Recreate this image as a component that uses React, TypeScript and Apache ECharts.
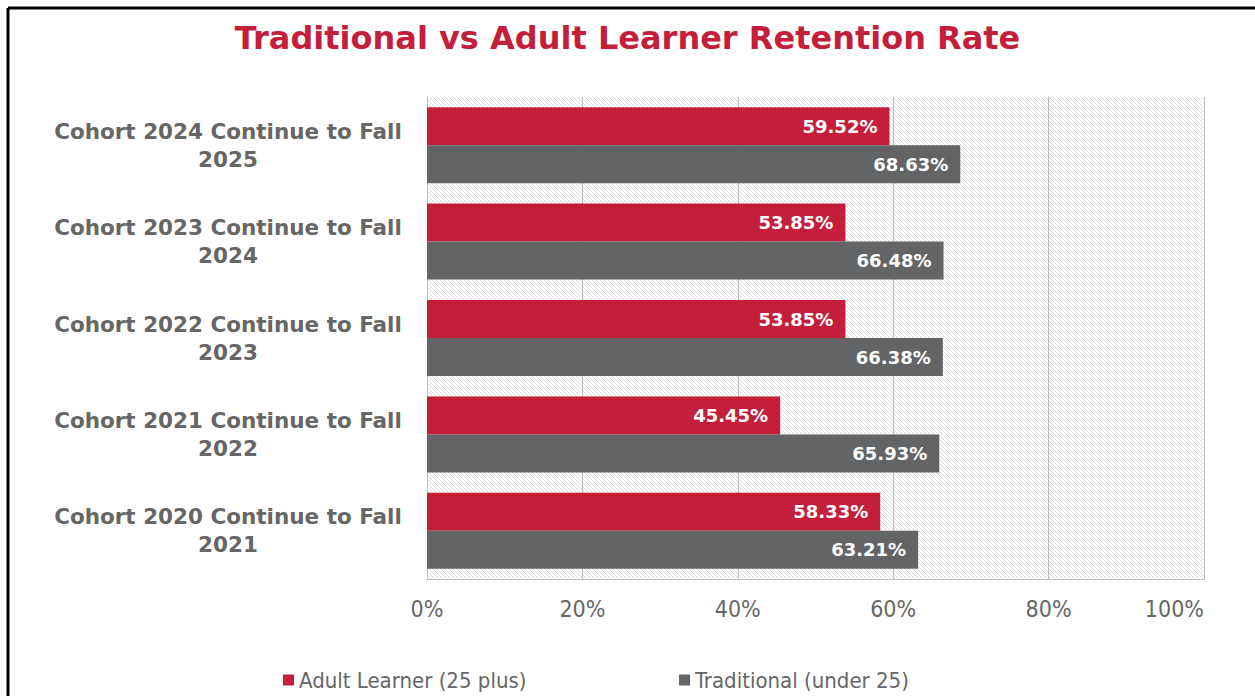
import React, { useEffect, useRef } from "react";
import * as echarts from "echarts";

const categories = [
  "Cohort 2024 Continue to Fall\n2025",
  "Cohort 2023 Continue to Fall\n2024",
  "Cohort 2022 Continue to Fall\n2023",
  "Cohort 2021 Continue to Fall\n2022",
  "Cohort 2020 Continue to Fall\n2021",
];
const adultLearner = [59.52, 53.85, 53.85, 45.45, 58.33];
const traditional = [68.63, 66.48, 66.38, 65.93, 63.21];
const seriesNames = ["Adult Learner (25 plus)", "Traditional (under 25)"];

function makeHatch(): HTMLCanvasElement {
  const c = document.createElement("canvas");
  c.width = 4;
  c.height = 4;
  const ctx = c.getContext("2d")!;
  ctx.fillStyle = "#ffffff";
  ctx.fillRect(0, 0, 4, 4);
  ctx.strokeStyle = "#dcdcdc";
  ctx.lineWidth = 1;
  ctx.beginPath();
  ctx.moveTo(-1, -1);
  ctx.lineTo(5, 5);
  ctx.moveTo(3, -1);
  ctx.lineTo(5, 1);
  ctx.moveTo(-1, 3);
  ctx.lineTo(1, 5);
  ctx.stroke();
  return c;
}

export default function App() {
  const ref = useRef<HTMLDivElement>(null);
  useEffect(() => {
    document.body.style.margin = "0";
    const chart = echarts.init(ref.current!, undefined, { renderer: "svg" });
    const labelFont = "'DejaVu Sans', sans-serif";
    const narrowFont =
      "'Liberation Sans Narrow', 'DejaVu Sans Condensed', 'Liberation Sans', Arial, sans-serif";
    chart.setOption({
      animation: false,
      backgroundColor: "#ffffff",
      title: {
        text: "Traditional vs Adult Learner Retention Rate",
        left: "center",
        top: 17,
        textStyle: {
          color: "#c41e3a",
          fontSize: 32,
          fontWeight: "bold",
          fontFamily: labelFont,
        },
      },
      graphic: [
        {
          type: "line",
          shape: { x1: 8, y1: 8, x2: 1255, y2: 8 },
          style: { stroke: "#000", lineWidth: 3 },
        },
        {
          type: "line",
          shape: { x1: 8, y1: 8, x2: 8, y2: 696 },
          style: { stroke: "#000", lineWidth: 3 },
        },
      ],
      legend: {
        left: 283,
        top: 668,
        padding: 0,
        itemWidth: 11,
        itemHeight: 11,
        itemGap: 20,
        icon: "rect",
        textStyle: {
          color: "#666666",
          fontSize: 22,
          fontFamily: narrowFont,
          width: 360,
          lineHeight: 24,
        },
        data: seriesNames,
      },
      grid: {
        left: 427,
        right: 51,
        top: 97,
        bottom: 117,
        show: true,
        borderWidth: 0,
        backgroundColor: { image: makeHatch(), repeat: "repeat" },
      },
      xAxis: {
        type: "value",
        min: 0,
        max: 100,
        interval: 20,
        axisLine: { show: true, lineStyle: { color: "#bfbfbf" } },
        axisTick: { show: false },
        splitLine: { show: true, lineStyle: { color: "#bfbfbf", width: 1 } },
        axisLabel: {
          formatter: "{value}%",
          color: "#666666",
          fontSize: 23,
          fontFamily: narrowFont,
          margin: 18,
          alignMaxLabel: "right",
        },
      },
      yAxis: {
        type: "category",
        inverse: true,
        data: categories,
        axisLine: { show: true, lineStyle: { color: "#bfbfbf" } },
        axisTick: { show: false },
        axisLabel: {
          color: "#666666",
          fontSize: 21.5,
          fontWeight: "bold",
          fontFamily: labelFont,
          align: "center",
          margin: 199,
          lineHeight: 28,
        },
      },
      series: [
        {
          name: seriesNames[0],
          type: "bar",
          data: adultLearner,
          barWidth: 38,
          barGap: "0%",
          itemStyle: { color: "#c41e3a" },
          label: {
            show: true,
            position: "insideRight",
            distance: 12,
            formatter: (p: any) => p.value.toFixed(2) + "%",
            color: "#ffffff",
            fontSize: 18,
            fontWeight: "bold",
            fontFamily: labelFont,
          },
        },
        {
          name: seriesNames[1],
          type: "bar",
          data: traditional,
          barWidth: 38,
          barGap: "0%",
          itemStyle: { color: "#636466" },
          label: {
            show: true,
            position: "insideRight",
            distance: 12,
            formatter: (p: any) => p.value.toFixed(2) + "%",
            color: "#ffffff",
            fontSize: 18,
            fontWeight: "bold",
            fontFamily: labelFont,
          },
        },
      ],
    });
    return () => chart.dispose();
  }, []);
  return <div ref={ref} style={{ width: 1255, height: 696 }} />;
}
